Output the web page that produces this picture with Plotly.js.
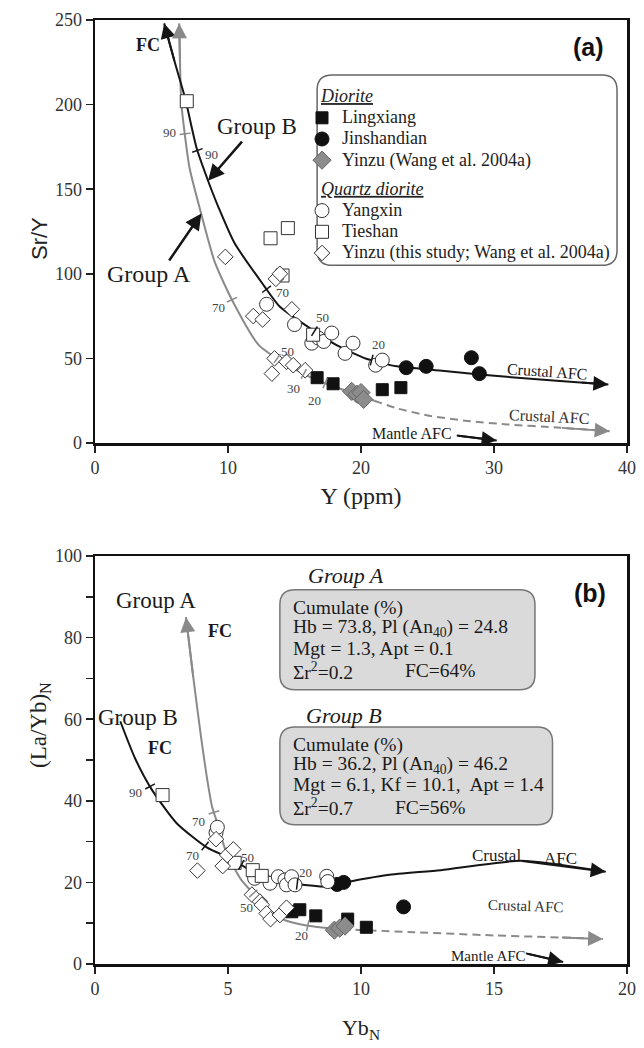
<!DOCTYPE html>
<html><head><meta charset="utf-8">
<script src="https://cdn.plot.ly/plotly-3.0.1.min.js"></script>
<style>html,body{margin:0;padding:0;background:#fff}</style>
</head><body><div id="chart" style="width:644px;height:1048px"></div>
<script>
// ---------- Panel (a): Y (ppm) vs Sr/Y ----------
const lingxiangA_x = [16.7, 17.9, 21.6, 23.0];
const lingxiangA_y = [38.6, 35.0, 31.5, 32.7];
const jinshandianA_x = [23.4, 24.9, 28.3, 28.9];
const jinshandianA_y = [44.5, 45.3, 50.4, 41.0];
const yinzuWangA_x = [19.3, 19.7, 20.0, 20.2];
const yinzuWangA_y = [30.5, 28.8, 29.8, 25.8];
const yangxinA_x = [12.9, 15.0, 16.3, 16.8, 17.2, 17.8, 18.8, 19.4, 21.1, 21.6];
const yangxinA_y = [82, 70, 59, 62, 60, 65, 53, 59, 46, 49];
const tieshanA_x = [6.9, 13.2, 14.5, 14.1, 16.4];
const tieshanA_y = [202, 121, 127, 99, 64];
const yinzuThisA_x = [9.8, 11.9, 12.6, 13.3, 13.5, 13.6, 13.9, 14.4, 14.8, 14.9, 15.8];
const yinzuThisA_y = [110, 75, 73, 41, 50, 97, 100, 48, 79, 46, 43];
// model curves (a)
const curveBA_x = [5.2, 6.0, 6.8, 7.65, 8.5, 9.3, 10.5, 12.7, 13.9, 16.4, 18.2, 20.4, 22.7, 25.9, 28.9, 33.0, 36.5, 38.6];
const curveBA_y = [248, 225, 203, 174, 155, 139, 118, 93, 80.5, 66.6, 57.7, 49.8, 45.3, 42.9, 40.5, 37.8, 35.8, 34.6];
const curveAA_x = [6.33, 6.4, 6.5, 7.1, 7.9, 9.0, 10.4, 12.3, 13.9, 15.9, 17.4, 19.9, 21.0];
const curveAA_y = [248, 222, 200, 163, 138, 107, 83, 58, 48.8, 40, 35, 28, 25];
const dashAA_x = [21.0, 22.7, 25.0, 28.0, 31.0, 35.0, 38.7];
const dashAA_y = [25, 20.5, 16.3, 13.0, 11.0, 9.0, 7.0];
const mantleA_x = [27.2, 30.2];
const mantleA_y = [4.4, 1.5];
const ticksBA = [[7.7, '90'], [12.9, '70'], [16.5, '50'], [20.8, '20']];
const ticksAA = [[6.78, '90'], [10.3, '70'], [13.7, '50'], [15.7, '30'], [17.3, '20']];

// ---------- Panel (b): YbN vs (La/Yb)N ----------
const lingxiangB_x = [7.4, 7.7, 8.3, 9.5, 10.2];
const lingxiangB_y = [12.8, 13.3, 11.8, 11.0, 9.0];
const jinshandianB_x = [9.1, 9.35, 11.6];
const jinshandianB_y = [19.5, 20.0, 14.0];
const yinzuWangB_x = [9.0, 9.2, 9.4];
const yinzuWangB_y = [8.3, 8.8, 9.3];
const yangxinB_x = [4.55, 4.6, 6.0, 6.58, 6.89, 7.14, 7.2, 7.39, 7.52, 8.71, 8.75];
const yangxinB_y = [32.2, 33.5, 21.0, 19.8, 21.4, 20.6, 19.4, 21.4, 19.4, 21.5, 20.2];
const tieshanB_x = [2.54, 5.25, 5.93, 6.27];
const tieshanB_y = [41.4, 24.8, 23.0, 21.6];
const yinzuThisB_x = [3.85, 4.55, 4.8, 4.97, 5.2, 5.9, 6.2, 6.27, 6.45, 6.6, 6.95, 7.2];
const yinzuThisB_y = [22.9, 30.6, 24.0, 26.7, 28.1, 17.0, 15.3, 14.5, 12.4, 11.0, 12.0, 13.8];
// model curves (b)
const curveBB_x = [0.95, 1.5, 2.13, 3.07, 4.2, 5.08, 5.7, 6.5, 7.33, 7.83, 8.83, 9.33, 9.6, 11.0, 13.0, 16.0, 19.2];
const curveBB_y = [59.5, 50.5, 42.8, 34.5, 28.6, 25.9, 23.5, 21.5, 19.8, 19.4, 18.9, 19.6, 20.2, 21.8, 23.0, 25.3, 22.6];
const curveAB_x = [3.42, 3.7, 4.0, 4.2, 4.4, 4.55, 4.95, 5.5, 5.95, 6.6, 7.2, 8.0, 9.3];
const curveAB_y = [85, 70, 55, 46, 38.6, 35.5, 27.1, 20.6, 17.3, 12.5, 10.6, 9.4, 8.5];
const dashAB_x = [9.3, 12.0, 15.0, 17.5, 19.1];
const dashAB_y = [8.5, 7.8, 7.0, 6.5, 6.1];
const mantleB_x = [16.2, 17.6];
const mantleB_y = [2.6, 0.5];
const ticksBB = [[2.07, '90'], [4.14, '70'], [5.5, '50'], [7.6, '20']];
const ticksAB = [[4.47, '70'], [5.95, '50'], [8.0, '20']];

// ---------- styles ----------
const SERIF = 'Liberation Serif, Times New Roman, serif';
const SANS = 'Liberation Sans, Arial, sans-serif';
const BLACK = '#151515', GREY = '#8a8a8a';

const styles = {
  ling: {symbol: 'square', size: 12, color: '#111', line: {color: '#111', width: 1}},
  jin: {symbol: 'circle', size: 14, color: '#111', line: {color: '#111', width: 1}},
  yzw: {symbol: 'diamond', size: 14, color: '#8c8c8c', line: {color: '#666', width: 1}},
  yang: {symbol: 'circle', size: 14, color: '#fff', line: {color: '#333', width: 1}},
  ties: {symbol: 'square', size: 13, color: '#fff', line: {color: '#333', width: 1}},
  yzt: {symbol: 'diamond', size: 12, color: '#fff', line: {color: '#333', width: 1}}
};

const traces = [];
function line(x, y, xa, ya, color, dash) {
  traces.push({x, y, xaxis: xa, yaxis: ya, mode: 'lines', showlegend: false, hoverinfo: 'skip',
    line: {color, width: 2, dash: dash || 'solid', shape: 'spline', smoothing: 0.6}});
}
line(curveAA_x, curveAA_y, 'x', 'y', GREY);
line(dashAA_x, dashAA_y, 'x', 'y', GREY, '8px,5px');
line(curveBA_x, curveBA_y, 'x', 'y', BLACK);
line(mantleA_x, mantleA_y, 'x', 'y', BLACK);
line(curveAB_x, curveAB_y, 'x2', 'y2', GREY);
line(dashAB_x, dashAB_y, 'x2', 'y2', GREY, '8px,5px');
line(curveBB_x, curveBB_y, 'x2', 'y2', BLACK);
line(mantleB_x, mantleB_y, 'x2', 'y2', BLACK);

const LEGFS = 18;
const GT = s => '&nbsp;&nbsp;&nbsp;&nbsp;<span style="font-size:' + LEGFS + 'px;text-decoration:underline;font-style:italic">' + s + '</span>';
const LT = s => '<span style="font-size:' + LEGFS + 'px">' + s + '</span>';
function pts(x, y, xa, ya, st, name, group, gtitle, legend) {
  traces.push({x, y, xaxis: xa, yaxis: ya, mode: 'markers', name: LT(name), marker: st,
    showlegend: legend, legendgroup: group,
    legendgrouptitle: {text: GT(gtitle), font: {family: SERIF, size: 14, color: '#222'}}});
}
pts(lingxiangA_x, lingxiangA_y, 'x', 'y', styles.ling, 'Lingxiang', 'd', 'Diorite', true);
pts(jinshandianA_x, jinshandianA_y, 'x', 'y', styles.jin, 'Jinshandian', 'd', 'Diorite', true);
pts(yinzuWangA_x, yinzuWangA_y, 'x', 'y', styles.yzw, 'Yinzu (Wang et al. 2004a)', 'd', 'Diorite', true);
pts(yangxinA_x, yangxinA_y, 'x', 'y', styles.yang, 'Yangxin', 'q', 'Quartz diorite', true);
pts(tieshanA_x, tieshanA_y, 'x', 'y', styles.ties, 'Tieshan', 'q', 'Quartz diorite', true);
pts(yinzuThisA_x, yinzuThisA_y, 'x', 'y', styles.yzt, 'Yinzu (this study; Wang et al. 2004a)', 'q', 'Quartz diorite', true);
pts(lingxiangB_x, lingxiangB_y, 'x2', 'y2', styles.ling, 'Lingxiang', 'd', 'Diorite', false);
pts(jinshandianB_x, jinshandianB_y, 'x2', 'y2', styles.jin, 'Jinshandian', 'd', 'Diorite', false);
pts(yinzuWangB_x, yinzuWangB_y, 'x2', 'y2', styles.yzw, 'Yinzu (Wang et al. 2004a)', 'd', 'Diorite', false);
pts(yangxinB_x, yangxinB_y, 'x2', 'y2', styles.yang, 'Yangxin', 'q', 'Quartz diorite', false);
pts(tieshanB_x, tieshanB_y, 'x2', 'y2', styles.ties, 'Tieshan', 'q', 'Quartz diorite', false);
pts(yinzuThisB_x, yinzuThisB_y, 'x2', 'y2', styles.yzt, 'Yinzu (this study; Wang et al. 2004a)', 'q', 'Quartz diorite', false);

// ---------- geometry ----------
const W = 644, H = 1048, ML = 95, MR = 17, MT = 20, MB = 84;
const PW = W - ML - MR, PH = H - MT - MB;
const A_TOP = 20, A_BOT = 443, B_TOP = 556, B_BOT = 964;
const domA = [(B_BOT - A_BOT) / PH, 1];
const domB = [0, (B_BOT - B_TOP) / PH];
const kxA = PW / 40, kyA = (A_BOT - A_TOP) / 250;
const kxB = PW / 20, kyB = (B_BOT - B_TOP) / 100;
const px2paperY = py => (B_BOT - py) / PH;
const px2paperX = px => (px - ML) / PW;

const shapes = [], annotations = [];
function curveTick(cx, cy, xc, kx, ky, len, xr, yr, color) {
  for (let i = 0; i < cx.length - 1; i++) {
    const a = cx[i], b = cx[i + 1];
    if ((xc - a) * (xc - b) <= 0 && a !== b) {
      const t = (xc - a) / (b - a), yc = cy[i] + t * (cy[i + 1] - cy[i]);
      const dxp = (b - a) * kx, dyp = (cy[i + 1] - cy[i]) * ky;
      const L = Math.hypot(dxp, dyp), nx = -dyp / L, ny = dxp / L, h = len / 2;
      shapes.push({type: 'line', xref: xr, yref: yr, x0: xc - nx * h / kx, y0: yc - ny * h / ky,
        x1: xc + nx * h / kx, y1: yc + ny * h / ky, line: {color, width: 1.5}});
      return;
    }
  }
}
ticksBA.forEach(t => curveTick(curveBA_x, curveBA_y, t[0], kxA, kyA, 11, 'x', 'y', BLACK));
ticksAA.forEach(t => curveTick(curveAA_x, curveAA_y, t[0], kxA, kyA, 11, 'x', 'y', GREY));
ticksBB.forEach(t => curveTick(curveBB_x, curveBB_y, t[0], kxB, kyB, 11, 'x2', 'y2', BLACK));
ticksAB.forEach(t => curveTick(curveAB_x, curveAB_y, t[0], kxB, kyB, 11, 'x2', 'y2', GREY));

function roundBox(x0, x1, y0, y1, rx, ry, xr, yr, fill, lc) {
  const p = `M${x0 + rx},${y0} L${x1 - rx},${y0} Q${x1},${y0} ${x1},${y0 + ry} L${x1},${y1 - ry} Q${x1},${y1} ${x1 - rx},${y1} L${x0 + rx},${y1} Q${x0},${y1} ${x0},${y1 - ry} L${x0},${y0 + ry} Q${x0},${y0} ${x0 + rx},${y0} Z`;
  shapes.push({type: 'path', path: p, xref: xr, yref: yr, fillcolor: fill, line: {color: lc, width: 1.5}, layer: 'below'});
}
roundBox(16.7, 39.25, 105, 217.5, 15 / kxA, 15 / kyA, 'x', 'y', '#fff', '#666');
roundBox(6.95, 16.54, 67.2, 91.7, 15 / kxB, 15 / kyB, 'x2', 'y2', '#dadada', '#777');
roundBox(6.95, 17.2, 34.1, 58.1, 15 / kxB, 15 / kyB, 'x2', 'y2', '#dadada', '#777');

function txt(xr, yr, x, y, text, size, opts) {
  annotations.push(Object.assign({xref: xr, yref: yr, x, y, text, showarrow: false,
    font: {family: SERIF, size, color: '#1a1a1a'}}, opts || {}));
}
function arrow(xr, yr, xs, ys, iHead, iTail, color, w, size) {
  annotations.push({xref: xr, yref: yr, axref: xr, ayref: yr, x: xs[iHead], y: ys[iHead],
    ax: xs[iTail], ay: ys[iTail], text: '', showarrow: true, arrowhead: 2,
    arrowsize: size || 1.5, arrowwidth: w || 2, arrowcolor: color, standoff: 0});
}
// curve-end arrows
const nBA = curveBA_x.length, nDA = dashAA_x.length, nBB = curveBB_x.length, nDB = dashAB_x.length;
arrow('x', 'y', curveBA_x, curveBA_y, 0, 1, BLACK);
arrow('x', 'y', curveBA_x, curveBA_y, nBA - 1, nBA - 2, BLACK);
arrow('x', 'y', curveAA_x, curveAA_y, 0, 1, GREY);
arrow('x', 'y', dashAA_x, dashAA_y, nDA - 1, nDA - 2, GREY);
arrow('x', 'y', mantleA_x, mantleA_y, 1, 0, BLACK);
arrow('x2', 'y2', curveBB_x, curveBB_y, nBB - 1, nBB - 2, BLACK);
arrow('x2', 'y2', curveAB_x, curveAB_y, 0, 1, GREY);
arrow('x2', 'y2', dashAB_x, dashAB_y, nDB - 1, nDB - 2, GREY);
arrow('x2', 'y2', mantleB_x, mantleB_y, 1, 0, BLACK);
// label pointer arrows (a)
annotations.push({xref: 'x', yref: 'y', axref: 'x', ayref: 'y', x: 8.5, y: 155, ax: 11.15, ay: 179, text: '',
  showarrow: true, arrowhead: 2, arrowsize: 1.3, arrowwidth: 2.5, arrowcolor: BLACK, standoff: 0});
annotations.push({xref: 'x', yref: 'y', axref: 'x', ayref: 'y', x: 8.0, y: 135.6, ax: 5.5, ay: 107, text: '',
  showarrow: true, arrowhead: 2, arrowsize: 1.3, arrowwidth: 2.5, arrowcolor: BLACK, standoff: 0});

// axis titles placed like the reference
annotations.push({xref: 'paper', yref: 'paper', x: px2paperX(25), y: px2paperY(215), text: 'Sr/Y', textangle: -90,
  showarrow: false, font: {family: SANS, size: 22, color: '#222'}});
annotations.push({xref: 'paper', yref: 'paper', x: px2paperX(24), y: px2paperY(770), text: '(La/Yb)<sub>N</sub>', textangle: -90,
  showarrow: false, font: {family: SERIF, size: 23, color: '#222'}});

// text (a)
txt('x', 'y', 3.95, 235, '<b>FC</b>', 18);
txt('x', 'y', 12.2, 187, 'Group B', 23);
txt('x', 'y', 4.06, 100, 'Group A', 24);
txt('x', 'y', 34.0, 42.5, 'Crustal AFC', 16, {textangle: 4});
txt('x', 'y', 34.1, 15.5, 'Crustal AFC', 16, {textangle: 3, font: {family: SERIF, size: 16, color: '#333'}});
txt('x', 'y', 23.8, 5.8, 'Mantle AFC', 16);
txt('x', 'y', 37.1, 234, '<b>(a)</b>', 25, {font: {family: SANS, size: 25, color: '#111'}});
const lblA = [[5.57, 183.4, '90'], [9.25, 80, '70'], [14.5, 53.8, '50'], [14.9, 32.2, '30'], [16.5, 25.1, '20'],
  [8.76, 170.7, '90'], [14.1, 89, '70'], [17.1, 74, '50'], [21.3, 58.3, '20']];
lblA.forEach(l => txt('x', 'y', l[0], l[1], l[2], 13, {font: {family: SERIF, size: 13, color: '#444'}}));

// text (b)
txt('x2', 'y2', 2.3, 89, 'Group A', 23);
txt('x2', 'y2', 4.7, 81.7, '<b>FC</b>', 18);
txt('x2', 'y2', 1.6, 60.5, 'Group B', 23);
txt('x2', 'y2', 2.46, 52.9, '<b>FC</b>', 18);
txt('x2', 'y2', 15.1, 26.6, 'Crustal', 17);
txt('x2', 'y2', 17.5, 25.8, 'AFC', 17);
txt('x2', 'y2', 16.2, 14.2, 'Crustal AFC', 15, {textangle: 2, font: {family: SERIF, size: 15, color: '#333'}});
txt('x2', 'y2', 14.8, 2.0, 'Mantle AFC', 15);
txt('x2', 'y2', 18.6, 91, '<b>(b)</b>', 25, {font: {family: SANS, size: 25, color: '#111'}});
const lblB = [[1.52, 42, '90'], [3.68, 26.5, '70'], [5.72, 26.0, '50'], [7.93, 22.4, '20'],
  [3.9, 35, '70'], [5.68, 13.8, '50'], [7.75, 7.0, '20']];
lblB.forEach(l => txt('x2', 'y2', l[0], l[1], l[2], 13, {font: {family: SERIF, size: 13, color: '#444'}}));

// info boxes (b)
const L = {xanchor: 'left'};
const BF = 19.5;
txt('x2', 'y2', 9.44, 95.1, '<i>Group A</i>', 22);
txt('x2', 'y2', 7.35, 87.3, 'Cumulate (%)', BF, L);
txt('x2', 'y2', 7.35, 82.3, 'Hb = 73.8, Pl (An<sub>40</sub>) = 24.8', BF, L);
txt('x2', 'y2', 7.35, 77.4, 'Mgt = 1.3, Apt = 0.1', BF, L);
txt('x2', 'y2', 7.35, 71.9, 'Σr<sup>2</sup>=0.2', BF, L);
txt('x2', 'y2', 11.58, 71.9, 'FC=64%', BF, L);
txt('x2', 'y2', 9.36, 60.8, '<i>Group B</i>', 22);
txt('x2', 'y2', 7.35, 53.8, 'Cumulate (%)', BF, L);
txt('x2', 'y2', 7.35, 48.8, 'Hb = 36.2, Pl (An<sub>40</sub>) = 46.2', BF, L);
txt('x2', 'y2', 7.35, 43.9, 'Mgt = 6.1, Kf = 10.1,  Apt = 1.4', BF, L);
txt('x2', 'y2', 7.35, 38.4, 'Σr<sup>2</sup>=0.7', BF, L);
txt('x2', 'y2', 11.2, 38.4, 'FC=56%', BF, L);

const axBase = {
  ticks: 'outside', ticklen: 7, tickwidth: 1.5, tickcolor: '#222', showline: true, mirror: true,
  linewidth: 2.5, linecolor: '#111', showgrid: false, zeroline: false, automargin: false,
  tickfont: {family: SERIF, size: 18, color: '#333'}, fixedrange: true
};
const layout = {
  width: W, height: H, margin: {l: ML, r: MR, t: MT, b: MB},
  paper_bgcolor: '#fff', plot_bgcolor: '#fff', showlegend: true,
  font: {family: SERIF},
  legend: {x: px2paperX(302), xanchor: 'left', y: px2paperY(81), yanchor: 'top', bgcolor: 'rgba(0,0,0,0)',
    borderwidth: 0, font: {family: SERIF, size: 14, color: '#222'}, tracegroupgap: 8, itemwidth: 30,
    traceorder: 'grouped'},
  xaxis: Object.assign({}, axBase, {domain: [0, 1], anchor: 'y', range: [0, 40], tickvals: [0, 10, 20, 30, 40],
    title: {text: 'Y (ppm)', standoff: 10, font: {family: SERIF, size: 24, color: '#222'}}}),
  yaxis: Object.assign({}, axBase, {domain: domA, anchor: 'x', range: [0, 250], tickvals: [0, 50, 100, 150, 200, 250]}),
  xaxis2: Object.assign({}, axBase, {domain: [0, 1], anchor: 'y2', range: [0, 20], tickvals: [0, 5, 10, 15, 20],
    title: {text: 'Yb<sub>N</sub>', standoff: 22, font: {family: SERIF, size: 22, color: '#222'}}}),
  yaxis2: Object.assign({}, axBase, {domain: domB, anchor: 'x2', range: [0, 100], tickvals: [0, 20, 40, 60, 80, 100],
    minor: {tickvals: [10, 30, 50, 70, 90], ticks: 'outside', ticklen: 7, tickcolor: '#222', tickwidth: 1.5}}),
  shapes, annotations
};
Plotly.newPlot('chart', traces, layout, {displayModeBar: false, staticPlot: true});
</script></body></html>
